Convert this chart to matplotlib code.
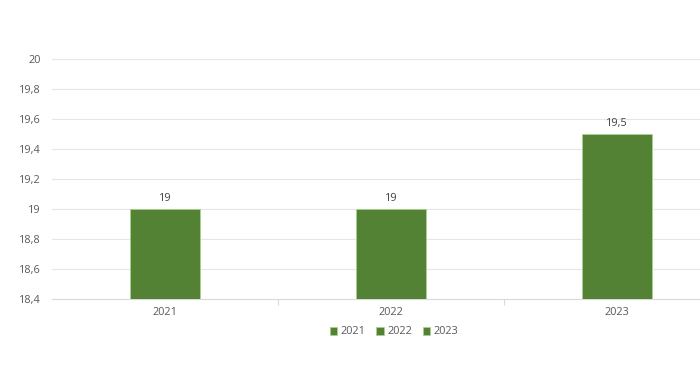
import numpy as np
import matplotlib.pyplot as plt
from matplotlib.patches import Patch
from matplotlib.ticker import FuncFormatter, FixedLocator

plt.rcParams['font.family'] = ['Open Sans', 'DejaVu Sans']

# 数据
years = ['2021', '2022', '2023']
values = [19, 19, 19.5]
labels = ['19', '19', '19,5']
y_ticks = [18.4, 18.6, 18.8, 19.0, 19.2, 19.4, 19.6, 19.8, 20.0]

green = '#548235'
grey = '#595959'

fig = plt.figure(figsize=(7, 3.67), dpi=100)
# 原图右侧被裁掉, 坐标轴延伸到图外
ax = fig.add_axes([52 / 700, 1 - 299 / 367, 678 / 700, 240 / 367])

x = np.arange(len(years))
bars = ax.bar(x, values, width=0.31, color=green, edgecolor='#a9d18e',
              linewidth=0.6, zorder=3)

for b, lab in zip(bars, labels):
    ax.text(b.get_x() + b.get_width() / 2, b.get_height() + 0.035, lab,
            ha='center', va='bottom', fontsize=7.8, color='#404040')

ax.set_ylim(18.4, 20)
ax.set_xlim(-0.5, 2.5)
ax.set_yticks(y_ticks)
ax.yaxis.set_major_formatter(FuncFormatter(
    lambda v, p: ('%g' % round(v, 1)).replace('.', ',')))
ax.set_xticks(x)
ax.set_xticklabels(years)
ax.xaxis.set_minor_locator(FixedLocator([0.5, 1.5]))

ax.grid(axis='y', color='#e6e6e6', linewidth=0.8, zorder=0)
for s in ['top', 'right', 'left']:
    ax.spines[s].set_visible(False)
ax.spines['bottom'].set_color('#d9d9d9')
ax.tick_params(axis='y', length=0, labelsize=7.8, labelcolor=grey, pad=8)
ax.tick_params(axis='x', which='major', length=0, labelsize=7.8,
               labelcolor=grey, pad=6)
ax.tick_params(axis='x', which='minor', length=4, color='#d9d9d9', width=0.8)

handles = [Patch(facecolor=green, edgecolor='#a9d18e', linewidth=0.5) for _ in years]
fig.legend(handles, years, loc='center', bbox_to_anchor=(394 / 700, 1 - 332 / 367),
           ncol=3, frameon=False, fontsize=7.8, labelcolor=grey,
           handlelength=0.7, handleheight=0.7, handletextpad=0.3,
           columnspacing=1.0)

plt.savefig('out.png', dpi=100)
